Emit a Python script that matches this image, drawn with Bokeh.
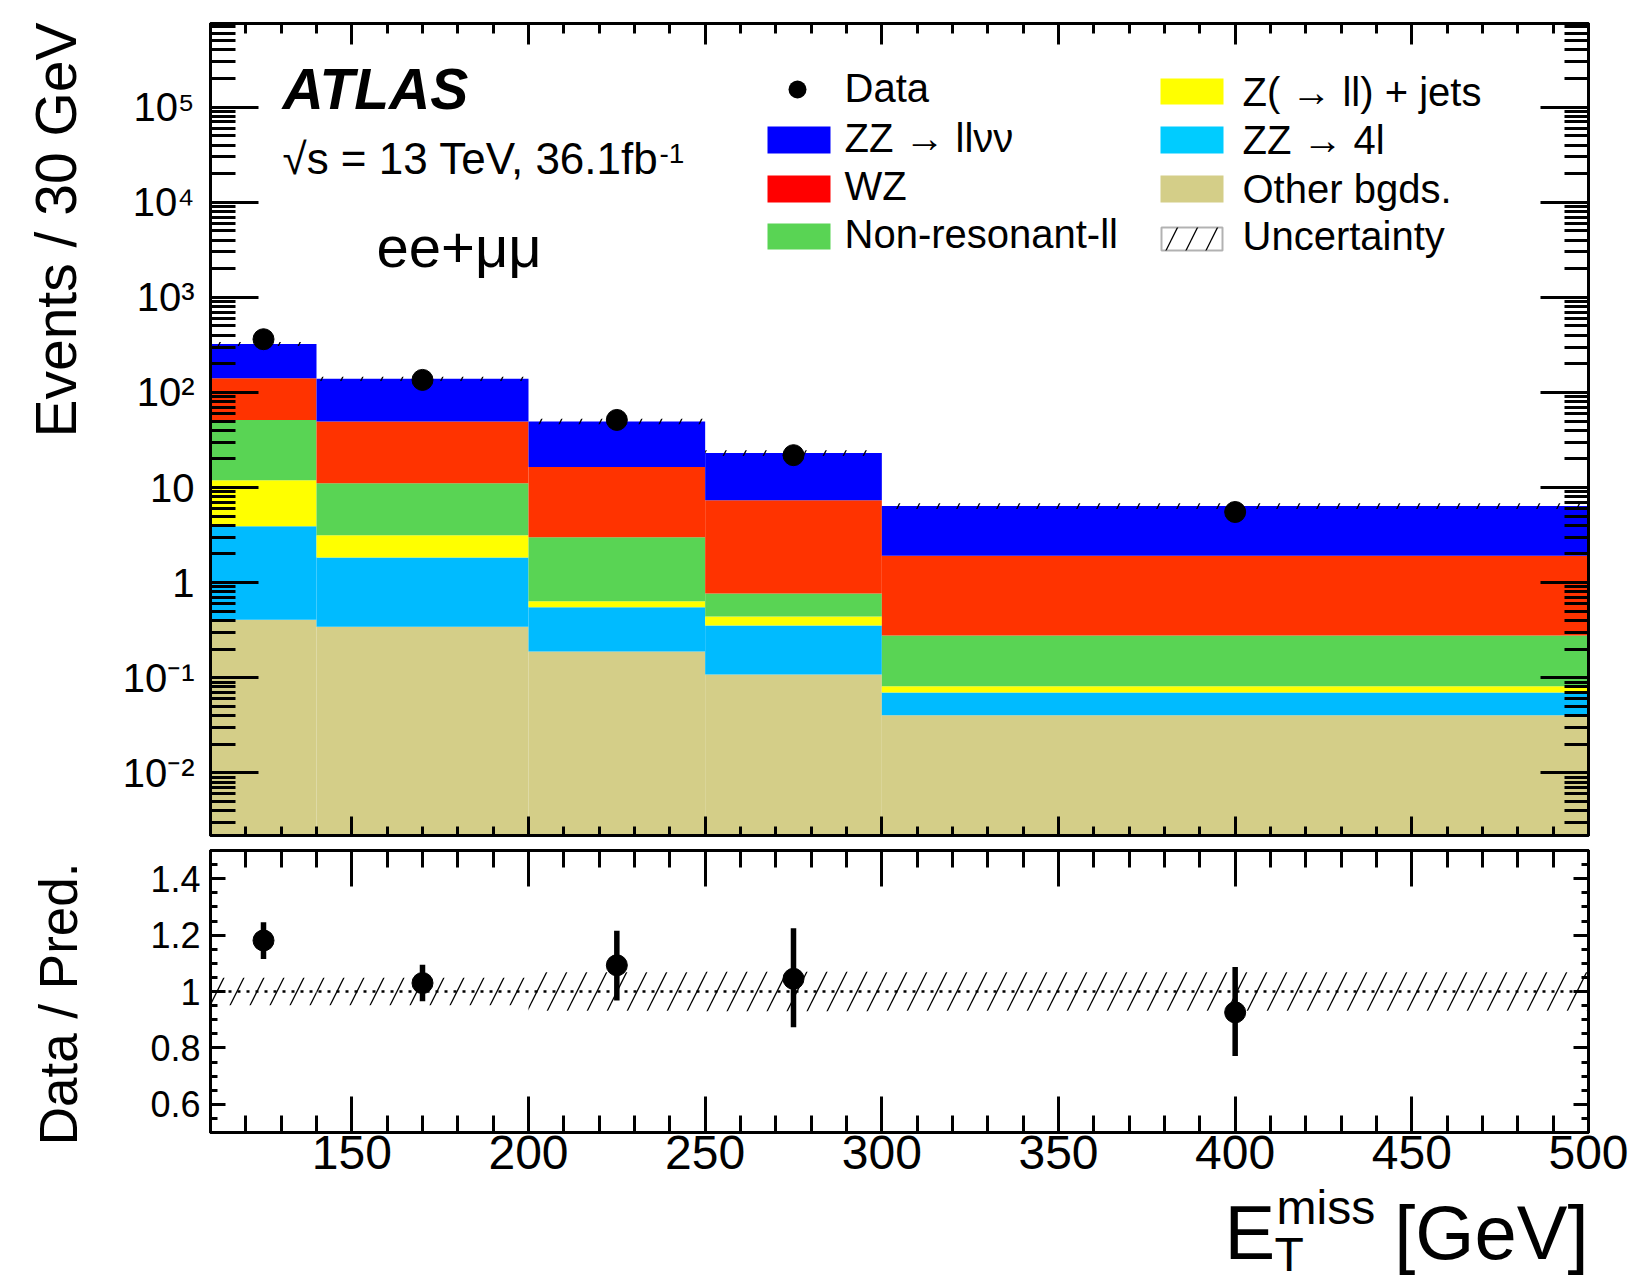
import numpy as np
from math import pi
from bokeh.plotting import figure
from bokeh.models import LinearAxis, LogAxis, FixedTicker, Label, BoxAnnotation, Span, Range1d
from bokeh.layouts import column, row
from bokeh.embed import file_html
from bokeh.resources import INLINE

# ---------------- data ----------------
edges = [110, 140, 200, 250, 300, 500]
other_bgds = [0.408, 0.344, 0.189, 0.108, 0.0404]
zz_4l = [3.51, 1.49, 0.361, 0.247, 0.0296]
z_jets = [7.98, 1.32, 0.085, 0.085, 0.0113]
non_resonant = [39.5, 7.95, 2.37, 0.33, 0.196]
wz = [89.6, 38.3, 13.4, 6.58, 1.64]
zz_llvv = [183.0, 89.6, 33.2, 15.75, 4.48]
data = [363.0, 135.5, 51.4, 21.9, 5.53]
rel_unc = [0.049, 0.049, 0.068, 0.070, 0.068]

ratio = [1.181, 1.030, 1.093, 1.045, 0.926]
ratio_hi = [1.246, 1.095, 1.215, 1.224, 1.087]
ratio_lo = [1.115, 0.965, 0.968, 0.873, 0.771]

x_ticks = [150, 200, 250, 300, 350, 400, 450, 500]
y_major = [1e-2, 1e-1, 1.0, 10.0, 100.0, 1e3, 1e4, 1e5]
y_labels = ["10\u207b\u00b2", "10\u207b\u00b9", "1", "10", "10\u00b2", "10\u00b3", "10\u2074", "10\u2075"]
r_major = [0.6, 0.8, 1.0, 1.2, 1.4]
r_labels = ["0.6", "0.8", "1", "1.2", "1.4"]

y_start, y_end = 2.19e-3, 7.59e5
r_start, r_end = 0.5, 1.5

FONT = "Liberation Sans"
colors = ["#d4ce88", "#00bbff", "#ffff00", "#59d454", "#ff3300", "#0000ff"]
layers = [other_bgds, zz_4l, z_jets, non_resonant, wz, zz_llvv]

left_e = np.array(edges[:-1], dtype=float)
right_e = np.array(edges[1:], dtype=float)
centers = (left_e + right_e) / 2

x_minor = list(range(110, 501, 10))
y_minor = [k * 10.0 ** d for d in range(-3, 6) for k in range(2, 10) if y_start <= k * 10.0 ** d <= y_end]
r_minor = [round(0.5 + 0.05 * i, 2) for i in range(21)]

# page geometry (pixels)
W, H = 1634, 1277
LW = 100                      # left strip holding the vertical titles
FL, FR = 210, 1588            # frame left / right
F1T, F1B = 23, 835            # main frame top / bottom
P1H = 843
F2T, F2B = 850, 1132          # ratio frame top / bottom
P2B = 1188                    # bottom of ratio canvas
MID = 0.37                    # text "middle" offset above baseline (em)


def style_axis(ax, major_in, minor_in, ticks, labels=None, size="40px", standoff=10):
    ax.axis_line_width = 3
    ax.axis_line_color = "black"
    ax.major_tick_line_width = 3
    ax.minor_tick_line_width = 3
    ax.major_tick_line_color = "black"
    ax.minor_tick_line_color = "black"
    ax.major_tick_in = major_in
    ax.major_tick_out = 0
    ax.minor_tick_in = minor_in
    ax.minor_tick_out = 0
    ax.axis_label = None
    ax.major_label_text_font = FONT
    ax.major_label_text_color = "black"
    if labels is not None:
        ax.major_label_text_font_size = size
        ax.major_label_standoff = standoff
        if labels:
            ax.major_label_overrides = {v: s for v, s in zip(ticks, labels)}
    else:
        ax.major_label_text_font_size = "1px"
        ax.major_label_standoff = 0
        ax.major_label_overrides = {v: "" for v in ticks}


def add_label(fig, x0, y0, X, baseline, text, px, **kw):
    """X, baseline: page pixels; x0 = page x of frame left, y0 = page y of frame bottom."""
    fig.add_layout(Label(x=X - x0, y=y0 - (baseline - MID * px), x_units="screen", y_units="screen",
                         text=text, text_font=FONT, text_font_size=f"{px}px", text_color="black",
                         text_baseline="middle", **kw))


def add_box(fig, X0, X1, Y0, Y1, **kw):
    fig.add_layout(BoxAnnotation(left=X0 - FL, right=X1 - FL, top=F1B - Y0, bottom=F1B - Y1,
                                 left_units="screen", right_units="screen",
                                 top_units="screen", bottom_units="screen", **kw))


def base_fig(**kw):
    f = figure(output_backend="svg", toolbar_location=None, **kw)
    f.background_fill_color = "white"
    f.border_fill_color = "white"
    return f


# ---------------- main panel ----------------
p1 = base_fig(width=W - LW, height=P1H, x_range=Range1d(110, 500), y_range=Range1d(y_start, y_end),
              y_axis_type="log", min_border_left=FL - LW, min_border_right=W - FR,
              min_border_top=F1T, min_border_bottom=P1H - F1B)
p1.grid.visible = False
p1.outline_line_color = "black"
p1.outline_line_width = 3

cum = np.cumsum(np.array(layers, dtype=float), axis=0)
lower = np.vstack([np.full(len(left_e), y_start), cum[:-1]])
for i, c in enumerate(colors):
    p1.quad(left=left_e, right=right_e, bottom=lower[i], top=cum[i], fill_color=c, line_color=None)

total = cum[-1]
unc = np.array(rel_unc)
p1.quad(left=left_e, right=right_e, bottom=total * (1 - unc), top=total * (1 + unc),
        fill_color=None, line_color=None, hatch_pattern="/", hatch_color="black",
        hatch_scale=40, hatch_weight=1.3)
p1.scatter(centers, data, size=21, color="black")

p1.yaxis[0].ticker = FixedTicker(ticks=y_major, minor_ticks=y_minor)
style_axis(p1.yaxis[0], 48, 25, y_major, labels=y_labels, size="40px", standoff=16)
p1.xaxis[0].ticker = FixedTicker(ticks=x_ticks, minor_ticks=x_minor)
style_axis(p1.xaxis[0], 19, 9, x_ticks)
ra = LogAxis(ticker=FixedTicker(ticks=y_major, minor_ticks=y_minor))
style_axis(ra, 48, 24, y_major)
p1.add_layout(ra, "right")
ta = LinearAxis(ticker=FixedTicker(ticks=x_ticks, minor_ticks=x_minor))
style_axis(ta, 21, 10, x_ticks)
p1.add_layout(ta, "above")

add_label(p1, FL, F1B, 282, 110, "ATLAS", 57, text_font_style="bold italic")
add_label(p1, FL, F1B, 282, 174, "\u221as = 13 TeV, 36.1fb", 44)
add_label(p1, FL, F1B, 659, 163, "-1", 28)
add_label(p1, FL, F1B, 376, 267, "ee+\u03bc\u03bc", 58)

# legend
add_box(p1, 788, 806, 80, 98, fill_color="black", fill_alpha=1, line_alpha=0, border_radius=9)
add_box(p1, 767, 830, 126, 153, fill_color="#0000ff", fill_alpha=1, line_alpha=0)
add_box(p1, 767, 830, 175, 202, fill_color="#ff0000", fill_alpha=1, line_alpha=0)
add_box(p1, 767, 830, 223, 249, fill_color="#59d454", fill_alpha=1, line_alpha=0)
add_box(p1, 1160, 1223, 78, 104, fill_color="#ffff00", fill_alpha=1, line_alpha=0)
add_box(p1, 1160, 1223, 126, 153, fill_color="#00ccff", fill_alpha=1, line_alpha=0)
add_box(p1, 1160, 1223, 175, 202, fill_color="#d4ce88", fill_alpha=1, line_alpha=0)
add_box(p1, 1161, 1222, 227, 250, fill_alpha=0, line_color="black", line_width=2,
        hatch_pattern="/", hatch_color="black", hatch_scale=40, hatch_weight=1.3)

leg1 = ["Data", "ZZ \u2192 ll\u03bd\u03bd", "WZ", "Non-resonant-ll"]
leg2 = ["Z( \u2192 ll) + jets", "ZZ \u2192 4l", "Other bgds.", "Uncertainty"]
for t, b in zip(leg1, [102, 152, 200, 248]):
    add_label(p1, FL, F1B, 844, b, t, 40)
for t, b in zip(leg2, [106, 154, 203, 250]):
    add_label(p1, FL, F1B, 1242, b, t, 40)

# ---------------- ratio panel ----------------
p2 = base_fig(width=W - LW, height=P2B - P1H, x_range=p1.x_range, y_range=Range1d(r_start, r_end),
              min_border_left=FL - LW, min_border_right=W - FR,
              min_border_top=F2T - P1H, min_border_bottom=P2B - F2B)
p2.grid.visible = False
p2.outline_line_color = "black"
p2.outline_line_width = 3

p2.quad(left=left_e, right=right_e, bottom=1 - unc, top=1 + unc, fill_color=None, line_color=None,
        hatch_pattern="/", hatch_color="black", hatch_scale=40, hatch_weight=1.3)
p2.add_layout(Span(location=1.0, dimension="width", line_color="black", line_width=2.5, line_dash="3 6"))
p2.segment(x0=centers, y0=ratio_lo, x1=centers, y1=ratio_hi, line_color="black", line_width=5.5)
p2.scatter(centers, ratio, size=21, color="black")

p2.xaxis[0].ticker = FixedTicker(ticks=x_ticks, minor_ticks=x_minor)
style_axis(p2.xaxis[0], 36, 17, x_ticks, labels=[], size="48px", standoff=3)
p2.yaxis[0].ticker = FixedTicker(ticks=r_major, minor_ticks=r_minor)
style_axis(p2.yaxis[0], 15, 7, r_major, labels=r_labels, size="36px", standoff=10)
ra2 = LinearAxis(ticker=FixedTicker(ticks=r_major, minor_ticks=r_minor))
style_axis(ra2, 15, 7, r_major)
p2.add_layout(ra2, "right")
ta2 = LinearAxis(ticker=FixedTicker(ticks=x_ticks, minor_ticks=x_minor))
style_axis(ta2, 36, 17, x_ticks)
p2.add_layout(ta2, "above")

# ---------------- x-axis title strip (frame aligned with the panels above) ----------------
p3 = base_fig(width=W - LW, height=H - P2B, x_range=Range1d(0, 1), y_range=Range1d(0, 1),
              x_axis_location=None, y_axis_location=None,
              min_border_left=FL - LW, min_border_right=W - FR, min_border_top=0, min_border_bottom=0)
p3.outline_line_color = None
p3.grid.visible = False
add_label(p3, FL, H, 1588, 1260, "[GeV]", 76, text_align="right")
add_label(p3, FL, H, 1224, 1260, "E", 76)
add_label(p3, FL, H, 1276, 1225, "miss", 48)
add_label(p3, FL, H, 1274, 1272, "T", 48)

# ---------------- y-axis title strip ----------------
pL = base_fig(width=LW, height=H, x_range=Range1d(0, 1), y_range=Range1d(0, 1),
              x_axis_location=None, y_axis_location=None,
              min_border_left=0, min_border_right=0, min_border_top=0, min_border_bottom=0)
pL.outline_line_color = None
pL.grid.visible = False
# rotated: baseline is a vertical line at page x; text "middle" sits MID*px to its left
pL.add_layout(Label(x=77 - MID * 57, y=H - 22, x_units="screen", y_units="screen", text="Events / 30 GeV",
                    text_font=FONT, text_font_size="57px", text_color="black", angle=pi / 2,
                    text_align="right", text_baseline="middle"))
pL.add_layout(Label(x=78 - MID * 53, y=H - 862, x_units="screen", y_units="screen", text="Data / Pred.",
                    text_font=FONT, text_font_size="53px", text_color="black", angle=pi / 2,
                    text_align="right", text_baseline="middle"))

layout = row(pL, column(p1, p2, p3))
open("out.html", "w").write(file_html(layout, INLINE))
